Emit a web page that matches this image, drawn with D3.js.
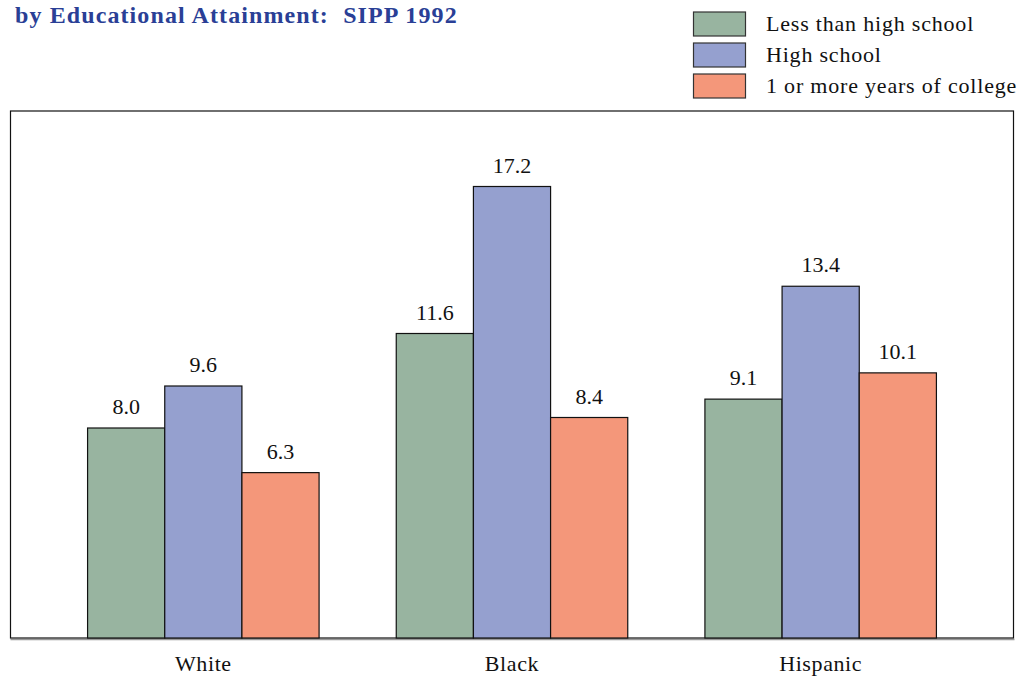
<!DOCTYPE html>
<html><head><meta charset="utf-8">
<script src="https://cdn.jsdelivr.net/npm/d3@7"></script>
<style>body{margin:0;background:#fff;}</style>
</head><body><svg id="c" width="1019" height="677"></svg>
<script>
const categories = ["White", "Black", "Hispanic"];
const seriesNames = ["Less than high school", "High school", "1 or more years of college"];
const lessThanHS = [8.0, 11.6, 9.1];
const highSchool = [9.6, 17.2, 13.4];
const college = [6.3, 8.4, 10.1];
const colors = ["#98b4a0", "#95a0cf", "#f4977a"];
const titleText = "by Educational Attainment:  SIPP 1992";

const FONT = "'Times New Roman', Times, 'Liberation Serif', 'Noto Serif', 'DejaVu Serif', serif";
const series = [lessThanHS, highSchool, college];
const svg = d3.select("#c").style("font-family", FONT);
const frame = {l: 10.5, r: 1013.5, t: 111, b: 638};

const x0 = d3.scaleBand().domain(categories).range([49, 975]).padding(0);
const x1 = d3.scaleBand().domain(d3.range(3)).range([0, x0.bandwidth()]).paddingInner(0).paddingOuter(0.5);
const y = d3.scaleLinear().domain([0, 20]).range([frame.b, 113]);

// title
svg.append("text").attr("x", 15).attr("y", 23).attr("fill", "#2a3f96").style("font-family", FONT)
  .attr("font-weight", "bold").attr("font-size", 24).attr("letter-spacing", 1.1)
  .style("white-space", "pre").text(titleText);

// frame shadow
svg.append("line").attr("x1", frame.l).attr("x2", frame.r + 1).attr("y1", frame.b + 1.5).attr("y2", frame.b + 1.5)
  .attr("stroke", "#999").attr("stroke-width", 1.5);
svg.append("rect").attr("x", frame.l).attr("y", frame.t).attr("width", frame.r - frame.l).attr("height", frame.b - frame.t)
  .attr("fill", "none").attr("stroke", "#111").attr("stroke-width", 1.2);

const g = svg.append("g");
categories.forEach((c, ci) => {
  series.forEach((s, si) => {
    const bx = x0(c) + x1(si);
    g.append("rect").attr("x", bx).attr("y", y(s[ci])).attr("width", x1.bandwidth())
      .attr("height", y(0) - y(s[ci])).attr("fill", colors[si]).attr("stroke", "#111").attr("stroke-width", 1.2);
    g.append("text").attr("x", bx + x1.bandwidth() / 2).attr("y", y(s[ci]) - 14).style("font-family", FONT)
      .attr("text-anchor", "middle").attr("font-size", 22).attr("fill", "#111").text(s[ci].toFixed(1));
  });
});

// x axis labels
const xAxis = d3.axisBottom(x0).tickSize(0).tickPadding(17);
const ax = svg.append("g").attr("transform", `translate(0,${frame.b})`).call(xAxis);
ax.attr("font-family", null);
ax.select(".domain").remove();
ax.selectAll("text").attr("font-size", 22).attr("letter-spacing", 0.6).style("font-family", FONT).attr("fill", "#111");

// legend
const leg = svg.append("g");
seriesNames.forEach((n, i) => {
  const ly = 12 + i * 31;
  leg.append("rect").attr("x", 693.5).attr("y", ly).attr("width", 52).attr("height", 24)
    .attr("fill", colors[i]).attr("stroke", "#333").attr("stroke-width", 1.2);
  leg.append("text").attr("x", 766).attr("y", ly + 19).style("font-family", FONT)
    .attr("font-size", 22).attr("letter-spacing", 0.8).attr("fill", "#111").text(n);
});
</script></body></html>
